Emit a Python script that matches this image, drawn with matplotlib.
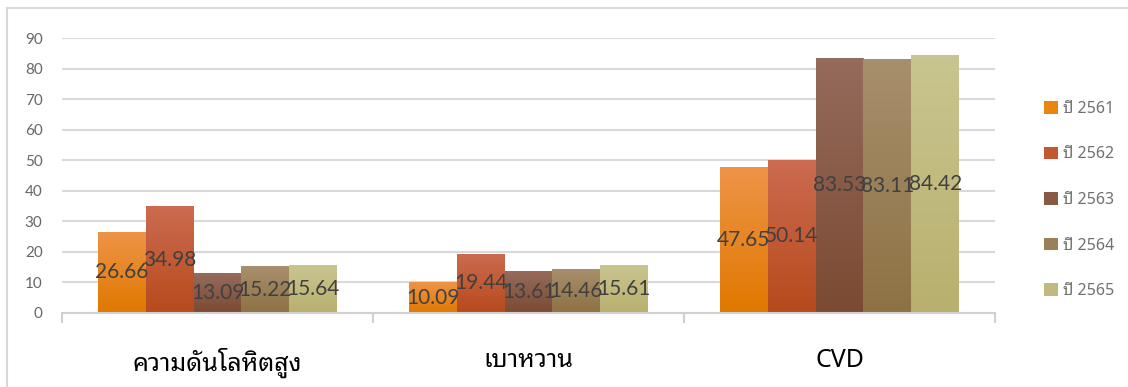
import numpy as np
import matplotlib
matplotlib.use('Agg')
import matplotlib.pyplot as plt
from matplotlib.colors import LinearSegmentedColormap
from matplotlib.patches import Rectangle, Patch

# data
categories = ['ความดันโลหิตสูง', 'เบาหวาน', 'CVD']
years = ['ปี 2561', 'ปี 2562', 'ปี 2563', 'ปี 2564', 'ปี 2565']
values = [
    [26.66, 10.09, 47.65],   # 2561
    [34.98, 19.44, 50.14],   # 2562
    [13.09, 13.61, 83.53],   # 2563
    [15.22, 14.46, 83.11],   # 2564
    [15.64, 15.61, 84.42],   # 2565
]
y_ticks = [0, 10, 20, 30, 40, 50, 60, 70, 80, 90]

# top / bottom colours of each gradient
tops = ['#EE9448', '#CB6B50', '#956B5C', '#A88F6C', '#C9C58F']
bottoms = ['#E07800', '#B84A1C', '#7B4A32', '#8D7244', '#B8B06E']
mids = ['#E8860F', '#C15A33', '#885A45', '#9A8058', '#C0BA7E']

THAI = ['Noto Sans Thai Looped', 'DejaVu Sans']
LAT = ['Lato', 'DejaVu Sans']

fig = plt.figure(figsize=(11.28, 3.87), dpi=100)
ax = fig.add_axes([62 / 1128, 1 - 313 / 387, (995 - 62) / 1128, (313 - 38) / 387])

x = np.arange(len(categories))
w = 0.154
for i, vals in enumerate(values):
    pos = x + (i - 2) * w
    bars = ax.bar(pos, vals, w, color=mids[i], zorder=3, linewidth=0)
    cmap = LinearSegmentedColormap.from_list('g%d' % i, [bottoms[i], tops[i]])
    for b, v in zip(bars, vals):
        x0 = b.get_x()
        im = ax.imshow(np.linspace(0, 1, 64).reshape(-1, 1), cmap=cmap,
                       origin='lower', aspect='auto', zorder=3.5,
                       extent=[x0, x0 + b.get_width(), 0, v])
        im.set_clip_path(b)
        ax.text(b.get_x() + b.get_width() / 2, v / 2, '%.2f' % v,
                ha='center', va='center', fontsize=15, color='#404040',
                family=LAT, zorder=5)

ax.set_xlim(-0.5, 2.5)
ax.set_ylim(0, 90)
ax.set_yticks(y_ticks)
ax.tick_params(axis='y', length=0, pad=14, labelsize=11, labelcolor='#666666')
for lab in ax.get_yticklabels():
    lab.set_family(LAT)
ax.grid(True, axis='y', color='#D9D9D9', linewidth=1.5, zorder=0)

ax.set_xticks(x)
ax.set_xticklabels(categories)
ax.tick_params(axis='x', which='major', length=0, pad=25, labelsize=18)
for lab in ax.get_xticklabels():
    lab.set_family(THAI)
    lab.set_weight('semibold')
    lab.set_color('#000000')
ax.get_xticklabels()[2].set_weight('normal')
ax.set_xticks([-0.5, 0.5, 1.5, 2.5], minor=True)
ax.tick_params(axis='x', which='minor', length=7, width=1.5, color='#D0D0D0')

for s in ['top', 'right', 'left']:
    ax.spines[s].set_visible(False)
ax.spines['bottom'].set_color('#D0D0D0')
ax.spines['bottom'].set_linewidth(1.5)
ax.spines['bottom'].set_zorder(4)

# legend
handles = [Patch(facecolor=mids[i], edgecolor='none') for i in range(len(years))]
leg = fig.legend(handles, years, loc='center left',
                 bbox_to_anchor=(1036 / 1128, 1 - 200 / 387), frameon=False,
                 prop={'family': THAI, 'size': 11.5}, labelcolor='#707070',
                 handlelength=0.85, handleheight=0.85, handletextpad=0.35,
                 labelspacing=1.85, borderpad=0)

# chart frame
fig.patches.append(Rectangle((7 / 1128, -0.1), 1.2, 1 - 8 / 387 + 0.1,
                             transform=fig.transFigure, fill=False,
                             edgecolor='#D9D9D9', linewidth=1.5))

fig.savefig('out.png', dpi=100)
